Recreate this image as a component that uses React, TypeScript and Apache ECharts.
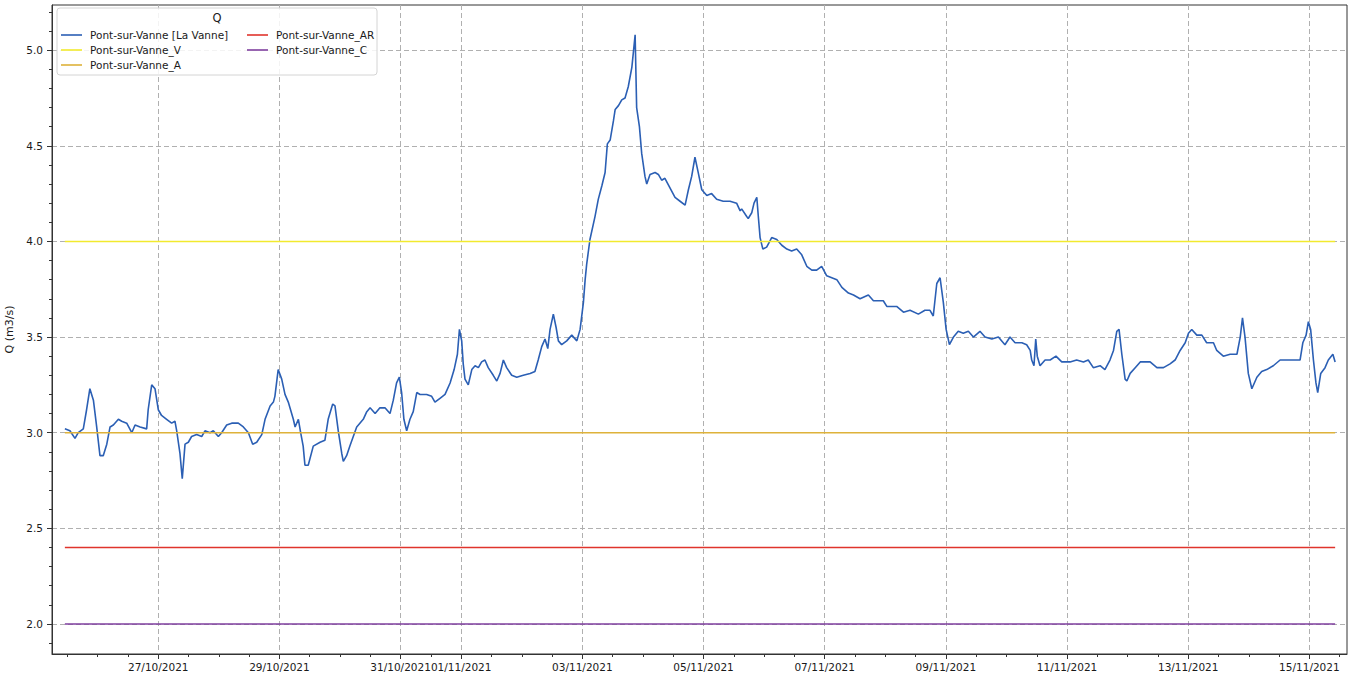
import React, { useEffect, useRef } from 'react';
import * as echarts from 'echarts';

// Hours since 25/10/2021 00:00 and discharge Q (m3/s)
const flowReadings: [number, number][] = [
  [11.0,3.02],[13.0,3.01],[15.0,2.97],[16.3,3.00],[18.3,3.02],[19.6,3.12],[20.9,3.23],[22.3,3.17],[23.6,3.03],[24.9,2.88],[26.2,2.88],[27.6,2.94],[28.9,3.03],[30.2,3.04],[32.2,3.07],[33.5,3.06],[35.5,3.05],[37.5,3.00],[38.8,3.04],[40.8,3.03],[43.4,3.02],[44.0,3.12],[45.4,3.25],[46.7,3.23],[48.0,3.12],[49.3,3.09],[51.3,3.07],[53.3,3.05],[54.6,3.06],[55.3,3.01],[56.6,2.89],[57.5,2.76],[58.6,2.94],[59.9,2.95],[61.2,2.98],[63.2,2.99],[65.2,2.98],[66.5,3.01],[68.5,3.00],[69.8,3.01],[71.8,2.98],[73.1,3.00],[75.1,3.04],[77.1,3.05],[79.7,3.05],[81.7,3.03],[83.7,3.00],[85.4,2.94],[87.0,2.95],[89.0,2.99],[90.3,3.07],[92.3,3.14],[93.6,3.16],[94.2,3.19],[95.5,3.33],[96.9,3.28],[98.2,3.20],[99.5,3.16],[101.5,3.07],[102.2,3.03],[103.5,3.07],[104.4,3.00],[105.4,2.93],[106.1,2.83],[107.4,2.83],[109.4,2.93],[112.1,2.95],[114.0,2.96],[115.3,3.07],[117.1,3.15],[118.0,3.14],[119.3,3.01],[120.7,2.89],[121.3,2.85],[122.6,2.88],[123.9,2.93],[126.6,3.03],[129.2,3.07],[130.6,3.11],[131.9,3.13],[133.9,3.10],[135.8,3.13],[137.8,3.13],[139.8,3.10],[141.1,3.17],[142.4,3.26],[143.5,3.29],[144.4,3.21],[145.3,3.07],[146.4,3.01],[147.7,3.07],[149.0,3.11],[150.4,3.21],[151.7,3.20],[154.3,3.20],[156.3,3.19],[157.6,3.16],[159.6,3.18],[161.6,3.20],[163.6,3.26],[165.2,3.33],[166.5,3.41],[167.3,3.54],[168.2,3.48],[168.8,3.36],[169.5,3.28],[170.8,3.25],[172.2,3.33],[173.5,3.35],[174.8,3.34],[176.1,3.37],[177.4,3.38],[178.7,3.34],[180.7,3.30],[182.1,3.27],[183.4,3.31],[184.7,3.38],[186.0,3.34],[188.0,3.30],[190.0,3.29],[192.6,3.30],[195.3,3.31],[197.2,3.32],[198.5,3.38],[199.9,3.45],[201.2,3.49],[202.3,3.44],[203.2,3.54],[204.5,3.62],[205.6,3.55],[206.5,3.48],[207.8,3.46],[209.8,3.48],[211.8,3.51],[213.8,3.48],[215.1,3.54],[216.4,3.68],[217.1,3.80],[217.7,3.88],[219.0,4.01],[221.0,4.13],[222.3,4.22],[223.7,4.29],[225.0,4.36],[225.9,4.51],[227.0,4.53],[228.3,4.63],[229.0,4.69],[230.3,4.71],[231.6,4.74],[232.9,4.75],[234.2,4.81],[235.6,4.91],[236.9,5.08],[237.5,4.70],[238.6,4.60],[239.5,4.46],[240.8,4.34],[241.5,4.30],[242.8,4.35],[244.8,4.36],[246.1,4.35],[247.4,4.32],[248.7,4.33],[250.7,4.28],[252.7,4.23],[254.7,4.21],[256.7,4.19],[258.0,4.27],[259.3,4.34],[260.6,4.44],[261.9,4.36],[263.3,4.27],[265.3,4.24],[267.2,4.25],[269.2,4.22],[271.8,4.21],[274.5,4.21],[277.1,4.20],[278.5,4.16],[279.1,4.17],[281.1,4.13],[281.7,4.12],[283.1,4.15],[284.0,4.20],[285.1,4.23],[285.7,4.13],[286.4,4.02],[287.5,3.96],[289.0,3.97],[291.0,4.02],[293.0,4.01],[295.0,3.98],[297.0,3.96],[298.9,3.95],[300.9,3.96],[302.9,3.93],[304.9,3.87],[306.9,3.85],[308.8,3.85],[310.8,3.87],[312.8,3.82],[314.8,3.81],[316.8,3.80],[318.8,3.76],[321.4,3.73],[323.4,3.72],[326.0,3.70],[329.3,3.72],[331.3,3.69],[335.2,3.69],[336.6,3.66],[340.5,3.66],[343.2,3.63],[345.8,3.64],[349.1,3.62],[351.7,3.64],[353.7,3.64],[355.0,3.61],[356.4,3.78],[357.7,3.81],[359.0,3.68],[360.1,3.54],[361.4,3.46],[363.0,3.50],[364.9,3.53],[366.9,3.52],[368.9,3.53],[370.9,3.50],[373.5,3.53],[375.5,3.50],[378.2,3.49],[380.8,3.50],[383.4,3.46],[385.4,3.50],[387.4,3.47],[390.1,3.47],[392.0,3.46],[393.4,3.43],[394.0,3.38],[394.9,3.35],[395.6,3.49],[396.2,3.40],[397.3,3.35],[399.3,3.38],[401.3,3.38],[403.6,3.40],[405.9,3.37],[409.2,3.37],[411.8,3.38],[414.5,3.37],[416.4,3.38],[418.4,3.34],[421.1,3.35],[423.0,3.33],[425.0,3.38],[426.4,3.43],[427.7,3.53],[428.6,3.54],[429.7,3.41],[431.0,3.28],[431.7,3.27],[433.0,3.31],[435.0,3.34],[437.0,3.37],[440.9,3.37],[443.6,3.34],[446.2,3.34],[448.8,3.36],[450.8,3.38],[452.8,3.43],[454.8,3.47],[456.1,3.52],[457.4,3.54],[459.4,3.51],[461.4,3.51],[463.3,3.47],[466.0,3.47],[467.3,3.43],[469.9,3.40],[472.6,3.41],[475.3,3.41],[476.6,3.50],[477.5,3.60],[478.5,3.50],[479.8,3.31],[481.2,3.23],[483.2,3.29],[485.1,3.32],[487.1,3.33],[489.7,3.35],[492.4,3.38],[495.1,3.38],[497.7,3.38],[500.3,3.38],[501.4,3.47],[502.7,3.51],[503.6,3.58],[504.5,3.54],[505.6,3.38],[506.6,3.26],[507.3,3.21],[508.5,3.31],[510.2,3.34],[511.5,3.38],[513.3,3.41],[514.2,3.37],
];

const seriesNames = [
  'Pont-sur-Vanne [La Vanne]',
  'Pont-sur-Vanne_V',
  'Pont-sur-Vanne_A',
  'Pont-sur-Vanne_AR',
  'Pont-sur-Vanne_C',
];
const seriesColors = ['#2b5fb4', '#f2ea2e', '#deb23a', '#e0342c', '#7f3f9f'];
const thresholdValues = [4.0, 3.0, 2.4, 2.0]; // V, A, AR, C
const thresholdSpan = [11.0, 514.2];

const xMajorTicks = [48, 96, 144, 168, 216, 264, 312, 360, 408, 456, 504];
const xMinorTicks: number[] = [];
for (let h = 12; h <= 516; h += 12) xMinorTicks.push(h);
const yMajorTicks = [2.0, 2.5, 3.0, 3.5, 4.0, 4.5, 5.0];
const yMinorTicks: number[] = [];
for (let i = 19; i <= 52; i++) yMinorTicks.push(i / 10);

const X_MIN = 5.9;
const X_MAX = 518.9;
const Y_MIN = 1.843;
const Y_MAX = 5.236;

const FONT = 'DejaVu Sans';
const TXT = '#1a1a1a';

function fmtDate(h: number): string {
  const d = new Date(Date.UTC(2021, 9, 25) + Math.round(h * 3600000));
  const dd = String(d.getUTCDate()).padStart(2, '0');
  const mm = String(d.getUTCMonth() + 1).padStart(2, '0');
  return `${dd}/${mm}/${d.getUTCFullYear()}`;
}

export default function App() {
  const ref = useRef<HTMLDivElement>(null);
  useEffect(() => {
    if (!ref.current) return;
    const chart = echarts.init(ref.current, undefined, { renderer: 'svg' });
    const gridLine = { show: true, lineStyle: { color: '#b0b0b0', width: 1, type: [5, 3] as any } };
    const series: any[] = [
      {
        name: seriesNames[0],
        type: 'line',
        data: flowReadings,
        symbol: 'none',
        lineStyle: { color: seriesColors[0], width: 1.6 },
        itemStyle: { color: seriesColors[0] },
        z: 3,
      },
    ];
    thresholdValues.forEach((v, i) => {
      series.push({
        name: seriesNames[i + 1],
        type: 'line',
        data: thresholdSpan.map((h) => [h, v]),
        symbol: 'none',
        lineStyle: { color: seriesColors[i + 1], width: 1.5 },
        itemStyle: { color: seriesColors[i + 1] },
        z: 3,
      });
    });
    const legendCommon = {
      orient: 'vertical',
      icon: 'rect',
      padding: 0,
      itemWidth: 21,
      itemHeight: 1.6,
      itemGap: 0,
      selectedMode: false,
      textStyle: { fontFamily: FONT, fontSize: 10.5, color: TXT, lineHeight: 15, padding: [0, 0, 0, 3] },
      z: 6,
    };
    chart.setOption({
      animation: false,
      grid: {
        left: 52, right: 7, top: 5, bottom: 23,
        outerBoundsMode: 'none',
        containLabel: false,
        show: true, borderColor: '#333', borderWidth: 1, backgroundColor: 'transparent',
      },
      xAxis: [
        {
          type: 'value',
          min: X_MIN,
          max: X_MAX,
          position: 'bottom',
          axisLine: { show: true, lineStyle: { color: '#333', width: 1 } },
          axisTick: { show: true, customValues: xMajorTicks, length: 5, lineStyle: { color: '#333' } },
          axisLabel: {
            customValues: xMajorTicks,
            formatter: (v: number) => fmtDate(v),
            fontFamily: FONT,
            fontSize: 10.5,
            color: TXT,
            margin: 7,
          },
          splitLine: gridLine,
        },
        {
          type: 'value',
          min: X_MIN,
          max: X_MAX,
          position: 'bottom',
          axisLine: { show: false },
          axisTick: { show: true, customValues: xMinorTicks, length: 3, lineStyle: { color: '#333' } },
          axisLabel: { show: false },
          splitLine: { show: false },
        },
      ],
      yAxis: [
        {
          type: 'value',
          min: Y_MIN,
          max: Y_MAX,
          position: 'left',
          name: 'Q (m3/s)',
          nameLocation: 'middle',
          nameRotate: 90,
          nameGap: 26,
          nameTextStyle: { fontFamily: FONT, fontSize: 11, color: TXT },
          axisLine: { show: true, lineStyle: { color: '#333', width: 1 } },
          axisTick: { show: true, customValues: yMajorTicks, length: 5, lineStyle: { color: '#333' } },
          axisLabel: {
            customValues: yMajorTicks,
            formatter: (v: number) => v.toFixed(1),
            fontFamily: FONT,
            fontSize: 10.5,
            color: TXT,
            margin: 9,
          },
          splitLine: gridLine,
        },
        {
          type: 'value',
          min: Y_MIN,
          max: Y_MAX,
          position: 'left',
          axisLine: { show: false },
          axisTick: { show: true, customValues: yMinorTicks, length: 3, lineStyle: { color: '#333' } },
          axisLabel: { show: false },
          splitLine: { show: false },
        },
      ],
      legend: [
        { ...legendCommon, left: 61, top: 27.5, data: seriesNames.slice(0, 3) },
        { ...legendCommon, left: 247, top: 27.5, data: seriesNames.slice(3) },
      ],
      graphic: [
        {
          type: 'rect',
          shape: { x: 57, y: 8, width: 320, height: 67, r: 3 },
          style: { fill: 'rgba(255,255,255,0.85)', stroke: '#d4d4d4', lineWidth: 1 },
          z: 5,
        },
        {
          type: 'text',
          x: 217,
          y: 18,
          style: { text: 'Q', fontFamily: FONT, fontSize: 11.5, fill: TXT, align: 'center', verticalAlign: 'middle' },
          z: 6,
        },
      ],
      series,
    });
    return () => chart.dispose();
  }, []);
  return <div ref={ref} style={{ position: 'absolute', left: 0, top: 0, width: 1354, height: 677 }} />;
}
